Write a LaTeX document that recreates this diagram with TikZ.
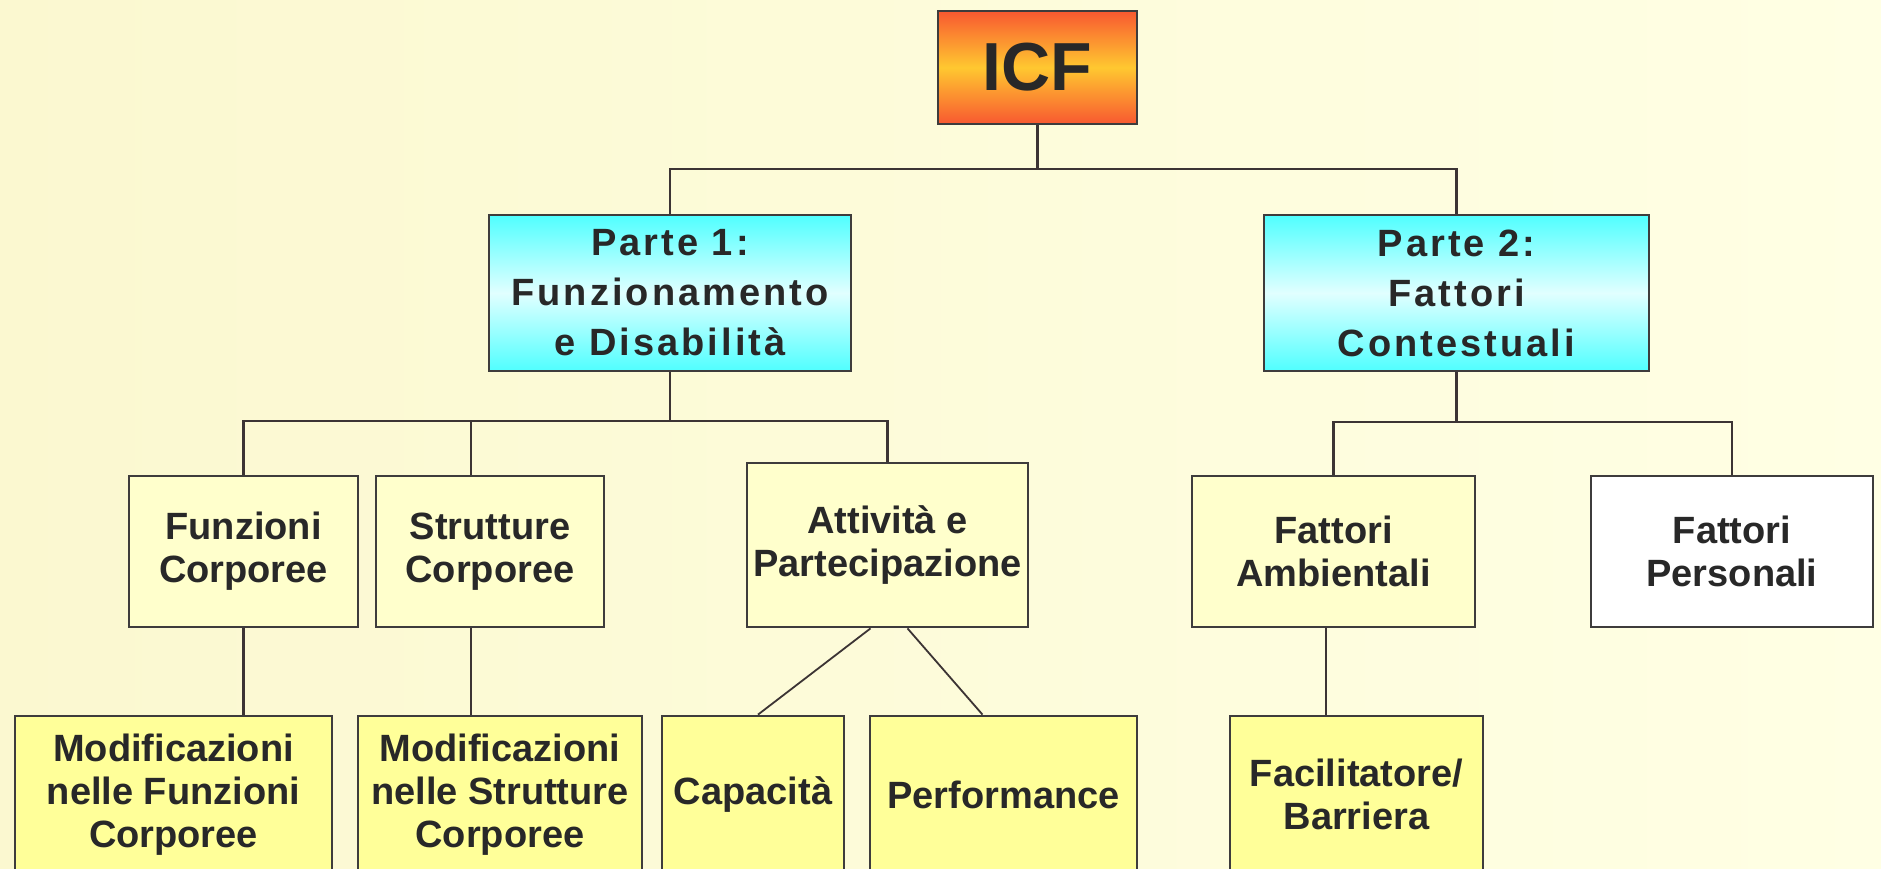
\documentclass[tikz,border=0pt]{standalone}
\usepackage{fontspec}
\setmainfont{Liberation Sans}
\newfontfamily\widefont[LetterSpace=8]{Liberation Sans}
\definecolor{bgleft}{RGB}{251,248,208}
\definecolor{bgright}{RGB}{255,255,228}
\definecolor{bordercol}{RGB}{62,60,60}
\definecolor{linecol}{RGB}{60,52,52}
\definecolor{textcol}{RGB}{40,40,40}
\definecolor{lvlfill}{RGB}{255,255,204}
\definecolor{botfill}{RGB}{255,255,153}
\definecolor{icfred}{RGB}{248,88,48}
\definecolor{icfyellow}{RGB}{255,200,48}
\definecolor{cyanedge}{RGB}{80,255,255}
\definecolor{cyanmid}{RGB}{225,255,255}
\tikzset{
  box/.style={draw=bordercol, line width=2.8pt, align=center, inner sep=0pt,
    text=textcol, font=\fontsize{38}{43}\selectfont\bfseries},
  lvlbox/.style={box, fill=lvlfill, minimum height=151pt},
  botbox/.style={box, fill=botfill, minimum height=157pt},
  partebox/.style={box, top color=cyanedge, bottom color=cyanedge, middle color=cyanmid,
    minimum height=156pt, font=\widefont\fontsize{38}{50}\selectfont\bfseries},
  icfbox/.style={box, top color=icfred, bottom color=icfred, middle color=icfyellow,
    minimum width=199pt, minimum height=113pt, font=\fontsize{68}{70}\selectfont\bfseries},
  conn/.style={draw=linecol, line width=2.6pt},
  thinconn/.style={draw=linecol, line width=1.8pt},
}
\begin{document}
\begin{tikzpicture}[x=1pt,y=-1pt]
\path[use as bounding box] (0,0) rectangle (1881,869);
\fill[left color=bgleft, right color=bgright] (0,0) rectangle (1881,869);
\clip (0,0) rectangle (1881,869);

% top
\node[icfbox] (icf) at (1037.5,67.5) {ICF};
\node[partebox, minimum width=362pt] (p1) at (670,293) {Parte 1:\\Funzionamento\\e Disabilità};
\node[partebox, minimum width=385pt] (p2) at (1456.5,293) {Parte 2:\\Fattori\\Contestuali};

% level 3
\node[lvlbox, minimum width=229pt] (fun) at (243.5,551.5) {Funzioni\\Corporee};
\node[lvlbox, minimum width=228pt] (str) at (490,551.5) {Strutture\\Corporee};
\node[lvlbox, minimum width=281pt, minimum height=164pt] (att) at (887.5,545) {Attività e\\Partecipazione};
\node[lvlbox, minimum width=283pt] (amb) at (1333.5,551.5) {Fattori\\Ambientali};
\node[lvlbox, fill=white, minimum width=282pt] (per) at (1732,551.5) {Fattori\\Personali};

% bottom level
\node[botbox, minimum width=317pt] (mod1) at (173.5,794.5) {Modificazioni\\nelle Funzioni\\Corporee};
\node[botbox, minimum width=284pt] (mod2) at (500,794.5) {Modificazioni\\nelle Strutture\\Corporee};
\node[botbox, minimum width=182pt] (cap) at (753,794.5) {Capacità};
\node[botbox, minimum width=267pt] (perf) at (1003.5,794.5) {Performance};
\node[botbox, minimum width=253pt] (fac) at (1356.5,794.5) {Facilitatore/\\Barriera};

% connectors
\coordinate (b0) at (1037.5,169);
\draw[conn] (icf.south) -- (b0);
\draw[conn] (p1.north) |- (b0) -| (p2.north);

\coordinate (b1) at (670,421);
\coordinate (s1) at (471,421);
\draw[conn] (p1.south) -- (b1);
\draw[conn] (fun.north) |- (b1) -| (att.north);
\draw[conn] (s1) -- (s1 |- str.north);
\draw[conn] (fun.south) -- (fun.south |- mod1.north);
\draw[conn] (str.south -| s1) -- (mod2.north -| s1);
\draw[thinconn] ([xshift=-17pt]att.south) -- ([xshift=5pt]cap.north);
\draw[thinconn] ([xshift=20pt]att.south) -- ([xshift=-21pt]perf.north);

\coordinate (b2) at (1456.5,422);
\coordinate (f1) at (1326,700);
\draw[conn] (p2.south) -- (b2);
\draw[conn] (amb.north) |- (b2) -| (per.north);
\draw[conn] (amb.south -| f1) -- (fac.north -| f1);
\end{tikzpicture}
\end{document}
